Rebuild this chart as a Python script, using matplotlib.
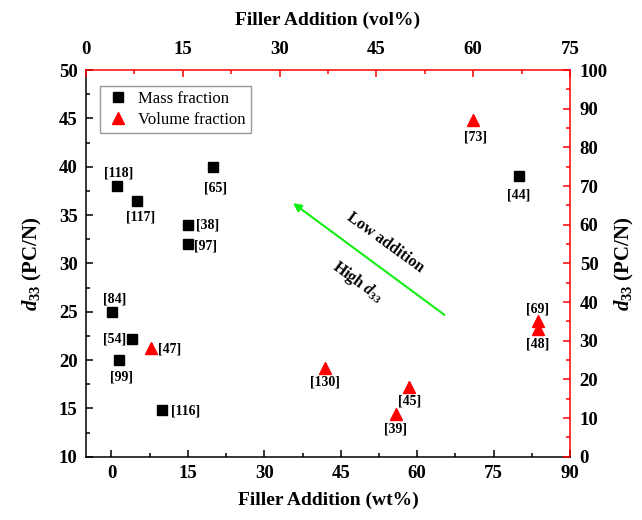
import matplotlib
matplotlib.use("Agg")
import matplotlib.pyplot as plt
from matplotlib.ticker import MultipleLocator

plt.rcParams['font.family'] = ['Liberation Serif', 'DejaVu Serif']
plt.rcParams['mathtext.fontset'] = 'custom'
plt.rcParams['mathtext.rm'] = 'Liberation Serif:bold'
plt.rcParams['mathtext.it'] = 'Liberation Serif:italic:bold'
plt.rcParams['mathtext.bf'] = 'Liberation Serif:bold'

# mass fraction data: filler wt%, d33 (pC/N)
mass_refs = ['[118]', '[117]', '[65]', '[38]', '[97]', '[84]', '[54]', '[99]', '[116]', '[44]']
mass_wt = [1, 5, 20, 15, 15, 0.2, 4, 1.5, 10, 80]
mass_d33 = [38, 36.5, 40, 34, 32, 25, 22.2, 20, 14.8, 39]
# label offsets in pixels (dx, dy)
mass_off = [(2, 13), (4, -16), (2, -21), (20, 0), (18, -2), (2, 13), (-17, 0), (2, -17), (23, -1), (0, -19)]

# volume fraction data: filler vol%, d33 (pC/N)
vol_refs = ['[47]', '[73]', '[69]', '[48]', '[130]', '[45]', '[39]']
vol_pct = [10, 60, 70, 70, 37, 50, 48]
vol_d33 = [28, 87, 35, 33, 23, 18, 11]
vol_off = [(19, -1), (2, -17), (0, 12), (0, -15), (0, -14), (1, -14), (0, -15)]

fig = plt.figure(figsize=(6.42, 5.2), dpi=100)
pos = [86 / 642, 1 - 456.7 / 520, 484 / 642, 386.7 / 520]
ax = fig.add_axes(pos)
ax2 = fig.add_axes(pos, frameon=False)

ax.set_xlim(-5, 90)
ax.set_ylim(10, 50)
ax2.set_xlim(0, 75)
ax2.set_ylim(0, 100)

for s in ax.spines.values():
    s.set_linewidth(1.1)
ax.spines['top'].set_color('red')
ax.spines['right'].set_color('red')

ax.xaxis.set_major_locator(MultipleLocator(15))
ax.xaxis.set_minor_locator(MultipleLocator(7.5))
ax.yaxis.set_major_locator(MultipleLocator(5))
ax.yaxis.set_minor_locator(MultipleLocator(2.5))
ax.tick_params(which='both', direction='in', top=False, right=False, width=1.1)
ax.tick_params(which='major', length=5, labelsize=13.5, pad=6)
ax.tick_params(which='minor', length=3)

ax2.xaxis.tick_top()
ax2.yaxis.tick_right()
ax2.xaxis.set_label_position('top')
ax2.yaxis.set_label_position('right')
ax2.xaxis.set_major_locator(MultipleLocator(15))
ax2.xaxis.set_minor_locator(MultipleLocator(7.5))
ax2.yaxis.set_major_locator(MultipleLocator(10))
ax2.yaxis.set_minor_locator(MultipleLocator(5))
ax2.tick_params(which='both', direction='in', color='red', width=1.1)
ax2.tick_params(which='major', length=5, labelsize=13.5)
ax2.tick_params(which='minor', length=3)
ax2.tick_params(axis='x', which='major', pad=9)
ax2.tick_params(axis='y', which='major', pad=7)

for a in (ax, ax2):
    for lab in a.get_xticklabels() + a.get_yticklabels():
        lab.set_fontweight('bold')

ax.set_xlabel('Filler Addition (wt%)', fontsize=14, fontweight='bold', labelpad=7)
ax.set_ylabel(r'$\mathit{d}_{33}$ (PC/N)', fontsize=15, fontweight='bold', labelpad=11)
ax2.set_xlabel('Filler Addition (vol%)', fontsize=14, fontweight='bold', labelpad=11)
ax2.set_ylabel(r'$\mathit{d}_{33}$ (PC/N)', fontsize=15, fontweight='bold', labelpad=4)

h1, = ax.plot(mass_wt, mass_d33, 's', color='black', markersize=7, linestyle='none', label='Mass fraction')
h2, = ax2.plot(vol_pct, vol_d33, '^', color='red', markersize=8.5, linestyle='none', label='Volume fraction')

for ref, x, y, off in zip(mass_refs, mass_wt, mass_d33, mass_off):
    ax.annotate(ref, (x, y), xytext=off, textcoords='offset pixels', ha='center', va='center',
                fontsize=10, fontweight='bold')
for ref, x, y, off in zip(vol_refs, vol_pct, vol_d33, vol_off):
    ax2.annotate(ref, (x, y), xytext=off, textcoords='offset pixels', ha='center', va='center',
                 fontsize=10, fontweight='bold')

# trend arrow
ax.annotate('', xy=(35.2, 36.4), xytext=(65.8, 24.5),
            arrowprops=dict(arrowstyle='-|>', color='#11ee11', lw=1.5, mutation_scale=12))
ax.text(53.7, 32.1, 'Low addition', rotation=-36, ha='center', va='center', fontsize=11.5, fontweight='bold')
ax.text(48.4, 28.1, r'High $\mathit{d}_{33}$', rotation=-36, ha='center', va='center', fontsize=11.5, fontweight='bold')

leg = ax2.legend(handles=[h1, h2], loc='upper left', bbox_to_anchor=(0.012, 0.98), fontsize=12,
                 frameon=True, fancybox=False, edgecolor='gray', handletextpad=0.4,
                 borderpad=0.3, labelspacing=0.3, handlelength=1.6)
leg.get_frame().set_linewidth(1.0)

fig.savefig('out.png', dpi=100)
